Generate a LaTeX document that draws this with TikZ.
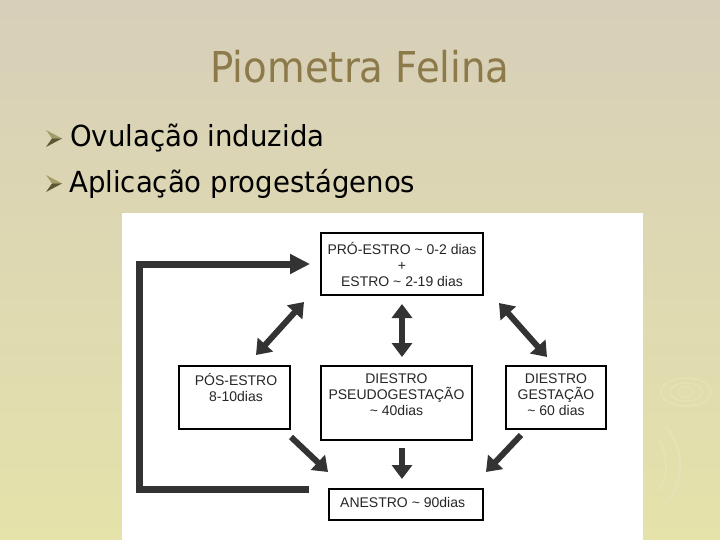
\documentclass[tikz,border=0pt]{standalone}
\usepackage{fontspec}
\setmainfont{Liberation Sans}
\newfontfamily\titlefont[FakeStretch=0.91]{DejaVu Sans}
\newfontfamily\bulletfont[FakeStretch=0.95]{DejaVu Sans}
\usetikzlibrary{arrows.meta,calc}
\definecolor{bgtop}{HTML}{D7CFB9}
\definecolor{bgbot}{HTML}{E5E2AA}
\definecolor{titlec}{HTML}{8C7A4B}
\definecolor{arrc}{HTML}{333333}
\definecolor{bulhi}{HTML}{A39D6A}
\definecolor{bullo}{HTML}{5C5732}
\definecolor{swirl}{HTML}{E6E2B6}
\tikzset{
  stagebox/.style={draw=black, line width=1.6pt, fill=white, inner sep=0pt},
  boxtext/.style={inner sep=0pt, align=center, font=\fontsize{14}{16}\selectfont, text=black!85},
  dblarrow/.style={draw=arrc, line width=6pt, {Triangle[width=20pt,length=14pt]}-{Triangle[width=20pt,length=14pt]}},
  onearrow/.style={draw=arrc, line width=6pt, -{Triangle[width=20pt,length=14pt]}},
  loopline/.style={draw=arrc, line width=7pt, -{Triangle[width=19pt,length=20pt]}},
  bullettext/.style={anchor=base west, inner sep=0pt, font=\bulletfont\fontsize{29}{32}\selectfont, text=black}
}
\begin{document}
\begin{tikzpicture}[x=1pt,y=-1pt]
\useasboundingbox (0,0) rectangle (720,540);
\shade[top color=bgtop, bottom color=bgbot] (0,0) rectangle (720,540);
% faint swirls at right
\draw[swirl, line width=1.5pt] (686,392) ellipse (8 and 5);
\draw[swirl, line width=1.5pt] (686,392) ellipse (16 and 9);
\draw[swirl, line width=1.5pt] (686,392) ellipse (25 and 14);
\draw[swirl, line width=2.5pt] (620,465) ++(-40:60) arc (-40:40:60);
\draw[swirl, line width=2pt] (620,465) ++(-35:46) arc (-35:35:46);
% title and bullets
\node[anchor=base, inner sep=0pt, font=\titlefont\fontsize{42.5}{46}\selectfont, text=titlec] (title) at (360,83) {Piometra Felina};
\coordinate (b1) at (46,147);
\coordinate (b2) at (46,192);
\foreach \b in {b1,b2}{
  \fill[bulhi] ($(\b)+(0,-17)$) -- ($(\b)+(16,-8.5)$) -- ($(\b)+(6,-8.5)$) -- cycle;
  \fill[bullo] ($(\b)+(0,0)$) -- ($(\b)+(16,-8.5)$) -- ($(\b)+(6,-8.5)$) -- cycle;
}
\node[bullettext] (t1) at (70,147) {Ovulação induzida};
\node[bullettext] (t2) at (69,193) {Aplicação progestágenos};
% white panel
\fill[white] (122,213) rectangle (643,540);
% boxes
\node[stagebox, minimum width=162pt, minimum height=62pt] (pro) at (402,264) {};
\node[boxtext] (proT) at (pro.center) {PRÓ-ESTRO \textasciitilde{} 0-2 dias\\+\\ESTRO \textasciitilde{} 2-19 dias};
\node[stagebox, minimum width=111pt, minimum height=63pt, anchor=north] (pos) at (234.5,365) {};
\node[boxtext] (posT) at (236,387) {PÓS-ESTRO\\8-10dias};
\node[stagebox, minimum width=151pt, minimum height=74pt, anchor=north] (pseudo) at (396.5,365) {};
\node[boxtext] (pseudoT) at (396.5,395) {DIESTRO\\PSEUDOGESTAÇÃO\\\textasciitilde{} 40dias};
\node[stagebox, minimum width=100pt, minimum height=63pt, anchor=north] (gest) at (556,365) {};
\node[boxtext] (gestT) at (556,395) {DIESTRO\\GESTAÇÃO\\\textasciitilde{} 60 dias};
\node[stagebox, minimum width=154pt, minimum height=31pt] (anes) at (406,504.5) {};
\node[boxtext, anchor=west] (anesT) at (340,502) {ANESTRO \textasciitilde{} 90dias};
% arrow end points
\coordinate (a1s) at (256,355); \coordinate (a1e) at (304,302);
\coordinate (a2s) at (402,357); \coordinate (a2e) at (402,304);
\coordinate (a3s) at (547,357); \coordinate (a3e) at (499,303);
\coordinate (d1s) at (291,437); \coordinate (d1e) at (328,472);
\coordinate (d2s) at (402,448); \coordinate (d2e) at (402,479);
\coordinate (d3s) at (521,435); \coordinate (d3e) at (486,472);
\draw[dblarrow] (a1s) -- (a1e);
\draw[dblarrow] (a2s) -- (a2e);
\draw[dblarrow] (a3s) -- (a3e);
\draw[onearrow] (d1s) -- (d1e);
\draw[onearrow] (d2s) -- (d2e);
\draw[onearrow] (d3s) -- (d3e);
% feedback loop
\coordinate (l1) at (309,489);
\coordinate (l2) at (139,489);
\coordinate (l3) at (139,264);
\coordinate (l4) at (310,264);
\draw[loopline, line join=miter] (l1) -- (l2) -- (l3) -- (l4);
\end{tikzpicture}
\end{document}
